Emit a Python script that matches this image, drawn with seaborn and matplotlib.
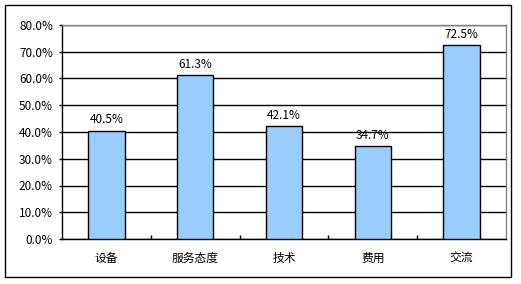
import matplotlib
matplotlib.use("Agg")
import matplotlib.pyplot as plt
import seaborn as sns
import pandas as pd
from matplotlib.patches import Rectangle

categories = ["设备", "服务态度", "技术", "费用", "交流"]
values = [40.5, 61.3, 42.1, 34.7, 72.5]
yticks = [0, 10, 20, 30, 40, 50, 60, 70, 80]
ytick_labels = ["0.0%", "10.0%", "20.0%", "30.0%", "40.0%", "50.0%", "60.0%", "70.0%", "80.0%"]

sns.set_theme(style="white")
plt.rcParams['font.family'] = ['Noto Sans CJK SC', 'DejaVu Sans']

W, H = 521, 284
fig = plt.figure(figsize=(W / 100, H / 100), dpi=100)
left, right, top, bottom = 62, 506, 25, 239
ax = fig.add_axes([left / W, 1 - bottom / H, (right - left) / W, (bottom - top) / H])

df = pd.DataFrame({"cat": categories, "val": values})
sns.barplot(data=df, x="cat", y="val", ax=ax, color="#99CCFF", saturation=1,
            width=0.41, edgecolor="black", linewidth=1.0, zorder=3)

fs = 8.5
ax.set_ylim(0, 80)
ax.set_xlim(-0.5, len(categories) - 0.5)
ax.set_yticks(yticks)
ax.set_yticklabels(ytick_labels, fontsize=fs, color="black")
ax.set_xticks(range(len(categories)))
ax.set_xticklabels(categories, fontsize=fs, color="black")
ax.set_xlabel("")
ax.set_ylabel("")

# gridlines
ax.yaxis.grid(True, color="black", linewidth=1.0, zorder=0)
ax.set_axisbelow(True)

for s in ["left", "bottom"]:
    ax.spines[s].set_color("black")
    ax.spines[s].set_linewidth(1.0)
for s in ["top", "right"]:
    ax.spines[s].set_color("#808080")
    ax.spines[s].set_linewidth(1.0)
    ax.spines[s].set_visible(True)

ax.tick_params(axis="y", which="both", left=True, length=2, width=1, color="black", pad=4.5)
ax.tick_params(axis="x", which="major", bottom=False, length=0, pad=9.5)
# minor ticks at category boundaries
ax.set_xticks([i + 0.5 for i in range(len(categories) - 1)], minor=True)
ax.tick_params(axis="x", which="minor", bottom=True, length=3, width=1, color="black", direction="in")

for i, v in enumerate(values):
    ax.annotate(f"{v:.1f}%", (i, v), xytext=(0, 3), textcoords="offset points",
                ha="center", va="bottom", fontsize=fs, color="black")

# outer border
fig.patches.append(Rectangle((5 / W, 1 - 277 / H), (511 - 5) / W, (277 - 5) / H,
                             transform=fig.transFigure, fill=False,
                             edgecolor="black", linewidth=1.0))

fig.savefig("out.png", dpi=100)
